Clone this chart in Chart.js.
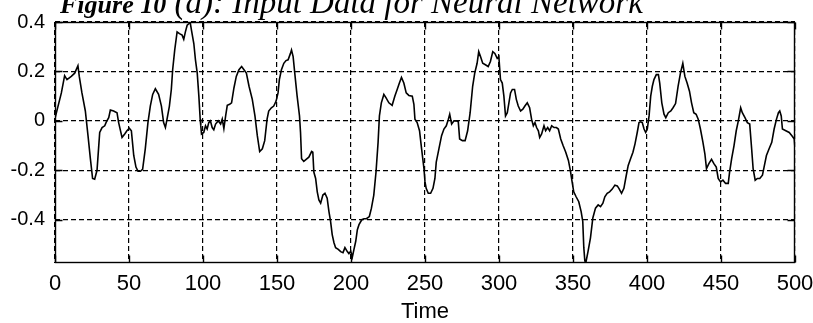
<!DOCTYPE html>
<html>
<head>
<meta charset="utf-8">
<script src="https://cdn.jsdelivr.net/npm/chart.js@4.4.0/dist/chart.umd.min.js"></script>
<style>
  html, body { margin: 0; padding: 0; background: #fff; }
  canvas { display: block; }
</style>
</head>
<body>
<canvas id="chart" width="813" height="323"></canvas>
<script>
// sample times and the input signal at those times
const time = [
  0, 4.3, 6.5, 8.1, 11, 13.3, 15.5, 16.4, 18.2, 20.5, 22.3, 23.9, 25.4, 26.8, 28.4,
  30.2, 31.8, 33.6, 34.7, 36.3, 37.4, 39.6, 41.9, 43, 45.3, 47.1, 48.6, 50.2, 51.6, 53.2,
  54.7, 56.1, 57.7, 59.2, 61, 62.8, 64.4, 66, 67.8, 70, 71.9, 73.4, 74.6, 75.7, 77.3,
  78.6, 79.5, 80.9, 82.5, 84.1, 85.9, 87, 88.1, 89.3, 90.4, 91.3, 92.2, 93.8, 94.9, 96.1,
  97.2, 98.1, 98.5, 99, 100.5, 101.7, 102.8, 103.9, 105, 106.2, 107.3, 108.5, 110.3, 111.9, 113,
  114.1, 115.3, 116.4, 118, 119.3, 120.9, 122.5, 124.3, 126.1, 127.7, 129.3, 131.1, 133.3, 135.1, 136.7,
  138.3, 140.1, 141.7, 143.3, 144.4, 146.2, 147.8, 149.4, 150.7, 151.6, 153, 154.6, 156.1, 157.5, 159.1,
  159.8, 160.9, 162, 163.6, 165.2, 165.9, 166.6, 168.1, 169.7, 171.5, 173.4, 174.2, 174.9, 176.1, 177.2,
  178.3, 179.5, 181, 182.4, 183.9, 185.1, 186.2, 187.3, 188.5, 189.6, 191.4, 193, 194.6, 195.9, 197.5,
  198.6, 199.8, 200.9, 202, 203.2, 204.3, 205.4, 207.3, 208.8, 210.4, 212.4, 213.8, 215.4, 216.9, 218.3,
  219.2, 220.5, 222.2, 223.7, 225.6, 227.8, 229.6, 231.2, 232.7, 234.1, 235.7, 237.3, 239.1, 241.4, 242.5,
  243.2, 244.7, 246.3, 247.7, 249.3, 250, 250.8, 252.2, 253.8, 255.4, 256.7, 257.6, 259.4, 261.2, 262.8,
  264.4, 265.8, 266.7, 268, 269.6, 271.2, 272.5, 273.4, 275.3, 277.1, 278.8, 280.5, 282.2, 283.6, 285.2,
  286.3, 287.5, 289, 290.8, 292.7, 294.2, 295.8, 297.2, 298.8, 299.9, 301, 302.2, 303.3, 304.4, 305.6,
  306.7, 307.8, 309, 310.5, 311.7, 313, 314.6, 316.1, 317.5, 319.1, 320.7, 322, 323.2, 324.3, 325.4,
  326.6, 327.5, 328.8, 330.4, 331.5, 332.9, 334.2, 335.6, 337.2, 338.8, 340.1, 341.7, 343.3, 345.1, 346.9,
  348.2, 349.4, 350.5, 352.1, 353.9, 355.5, 356.6, 357.3, 358, 358.8, 360.2, 361.8, 363.4, 365.2, 367,
  368.6, 370.2, 371.5, 373.1, 374.7, 376.5, 378.3, 379.9, 381, 382.8, 384.4, 386, 387.3, 388.9, 390.5,
  391.9, 393.4, 394.6, 395.7, 396.8, 398, 399.1, 400.2, 401.4, 402.5, 403.6, 404.7, 406.3, 407.7, 408.6,
  410, 411.5, 412.7, 414.4, 416.1, 417.6, 419.3, 421, 422.6, 424.2, 425.6, 427.1, 428.7, 430.1, 431.6,
  433.2, 434.6, 436.1, 437.8, 439.1, 440.2, 441.8, 443.6, 445.2, 446.8, 448.1, 449.7, 451.3, 453.1, 454.9,
  455.8, 457.2, 458.8, 460.3, 461.7, 463.3, 464.4, 466.2, 467.8, 469.4, 470.7, 471.7, 473.1, 474.6, 476.2,
  478, 479.1, 480.7, 482.5, 484.3, 485.9, 487.5, 488.8, 489.7, 490.7, 491.5, 493.8, 496.1, 497.9, 499.5,
  500
];
const input = [
  0.01, 0.113, 0.183, 0.167, 0.18, 0.193, 0.223, 0.18, 0.113, 0.04, -0.06, -0.153, -0.233, -0.236, -0.2,
  -0.047, -0.027, -0.02, -0.004, 0.013, 0.044, 0.04, 0.033, -0.007, -0.067, -0.053, -0.04, -0.03, -0.04, -0.14,
  -0.187, -0.204, -0.204, -0.196, -0.113, -0.007, 0.06, 0.107, 0.13, 0.107, 0.06, -0.007, -0.027, 0.007, 0.06,
  0.127, 0.207, 0.287, 0.36, 0.353, 0.347, 0.33, 0.36, 0.387, 0.393, 0.4, 0.367, 0.313, 0.247, 0.193,
  0.1, 0.007, -0.02, -0.053, -0.047, -0.02, -0.033, -0.007, 0, -0.027, -0.036, -0.013, 0, -0.013, 0.007,
  -0.031, 0.02, 0.063, 0.067, 0.073, 0.133, 0.18, 0.207, 0.22, 0.207, 0.193, 0.14, 0.087, 0.02, -0.06,
  -0.124, -0.113, -0.08, 0.007, 0.04, 0.053, 0.06, 0.08, 0.113, 0.167, 0.207, 0.233, 0.244, 0.247, 0.273,
  0.287, 0.26, 0.193, 0.1, 0.02, -0.047, -0.153, -0.164, -0.156, -0.147, -0.124, -0.127, -0.207, -0.233, -0.287,
  -0.32, -0.333, -0.3, -0.293, -0.313, -0.367, -0.407, -0.46, -0.493, -0.513, -0.52, -0.529, -0.533, -0.513, -0.529,
  -0.537, -0.527, -0.551, -0.52, -0.487, -0.44, -0.42, -0.4, -0.396, -0.396, -0.387, -0.353, -0.3, -0.207, -0.087,
  0.02, 0.073, 0.107, 0.093, 0.073, 0.063, 0.1, 0.127, 0.153, 0.176, 0.153, 0.113, 0.103, 0.1, 0.067,
  0.007, -0.007, -0.04, -0.113, -0.193, -0.247, -0.273, -0.293, -0.293, -0.273, -0.233, -0.167, -0.113, -0.06, -0.033,
  -0.02, 0.007, 0.027, -0.013, 0, 0, -0.004, -0.073, -0.08, -0.08, -0.04, 0.033, 0.14, 0.193, 0.233,
  0.28, 0.26, 0.233, 0.227, 0.22, 0.24, 0.28, 0.273, 0.253, 0.26, 0.167, 0.153, 0.1, 0.02, 0.033,
  0.073, 0.113, 0.127, 0.127, 0.087, 0.06, 0.04, 0.047, 0.06, 0.073, 0.053, 0.007, -0.02, -0.007, -0.027,
  -0.04, -0.067, -0.053, -0.02, -0.04, -0.027, -0.04, -0.02, -0.027, -0.027, -0.033, -0.073, -0.1, -0.127, -0.16,
  -0.2, -0.247, -0.287, -0.307, -0.327, -0.367, -0.407, -0.513, -0.567, -0.57, -0.527, -0.473, -0.393, -0.353, -0.34,
  -0.347, -0.333, -0.307, -0.293, -0.287, -0.276, -0.26, -0.263, -0.273, -0.293, -0.273, -0.22, -0.18, -0.153, -0.127,
  -0.093, -0.047, -0.007, -0.004, -0.007, -0.033, -0.047, -0.033, 0.02, 0.1, 0.14, 0.167, 0.187, 0.187, 0.153,
  0.073, 0.027, 0.013, 0.033, 0.04, 0.053, 0.07, 0.14, 0.193, 0.233, 0.18, 0.153, 0.12, 0.073, 0.033,
  0.027, 0.007, -0.033, -0.087, -0.133, -0.193, -0.173, -0.156, -0.173, -0.187, -0.233, -0.247, -0.24, -0.253, -0.253,
  -0.207, -0.153, -0.1, -0.04, 0, 0.053, 0.033, 0.013, -0.007, -0.013, -0.113, -0.193, -0.24, -0.233, -0.233,
  -0.22, -0.187, -0.14, -0.113, -0.087, -0.033, 0.007, 0.033, 0.04, 0.02, -0.033, -0.04, -0.047, -0.06, -0.073,
  -0.113
];
const xTicks = [0, 50, 100, 150, 200, 250, 300, 350, 400, 450, 500];
const yTicks = [-0.4, -0.2, 0, 0.2, 0.4];
const titleBold = 'Figure 10';
const titleRest = ' (a): Input Data for Neural Network';
const xLabel = 'Time';

const sans = "'Liberation Sans', Arial, sans-serif";

// white page, solid box and short inward ticks like a matlab axes, plus the cropped caption
const matlabBox = {
  id: 'matlabBox',
  beforeDraw(chart) {
    const ctx = chart.ctx;
    ctx.save();
    ctx.fillStyle = '#fff';
    ctx.fillRect(0, 0, chart.width, chart.height);
    ctx.restore();
  },
  afterDraw(chart) {
    const ctx = chart.ctx;
    const a = chart.chartArea;
    const xs = chart.scales.x, ys = chart.scales.y;
    const L = Math.round(a.left) + 0.5, R = Math.round(a.right) - 0.5;
    const T = Math.round(a.top) + 0.5, B = Math.round(a.bottom) - 0.5;
    const len = 7;
    ctx.save();
    ctx.strokeStyle = '#000';
    ctx.lineWidth = 1.4;
    ctx.strokeRect(L, T, R - L, B - T);
    ctx.beginPath();
    xTicks.forEach(v => {
      const p = Math.round(xs.getPixelForValue(v)) + 0.5;
      ctx.moveTo(p, B); ctx.lineTo(p, B - len);
      ctx.moveTo(p, T); ctx.lineTo(p, T + len);
    });
    yTicks.forEach(v => {
      const p = Math.round(ys.getPixelForValue(v)) + 0.5;
      ctx.moveTo(L, p); ctx.lineTo(L + len, p);
      ctx.moveTo(R, p); ctx.lineTo(R - len, p);
    });
    ctx.stroke();

    // caption, only its lower part fits on the page
    ctx.fillStyle = '#000';
    ctx.textBaseline = 'alphabetic';
    ctx.textAlign = 'left';
    ctx.font = "italic bold 26px 'Liberation Serif', 'Times New Roman', serif";
    ctx.fillText(titleBold, 60, 13);
    const w = ctx.measureText(titleBold).width;
    ctx.font = "italic 33px 'Liberation Serif', 'Times New Roman', serif";
    ctx.fillText(titleRest, 60 + w, 13);
    ctx.restore();
  }
};

const points = time.map((t, i) => ({ x: t, y: input[i] }));

new Chart(document.getElementById('chart'), {
  type: 'line',
  data: {
    datasets: [{
      label: 'input',
      data: points,
      borderColor: '#000',
      borderWidth: 1.6,
      pointRadius: 0,
      tension: 0,
      fill: false
    }]
  },
  options: {
    responsive: false,
    animation: false,
    devicePixelRatio: 1,
    layout: { padding: { top: 21, right: 0, left: 0, bottom: 0 } },
    plugins: {
      legend: { display: false },
      title: { display: false },
      tooltip: { enabled: false }
    },
    scales: {
      x: {
        type: 'linear',
        min: 0,
        max: 500,
        afterBuildTicks: s => { s.ticks = xTicks.map(v => ({ value: v })); },
        afterFit: s => { s.height = 60; s.paddingLeft = 0; s.paddingRight = 18; },
        ticks: {
          color: '#000',
          padding: 8,
          maxRotation: 0,
          autoSkip: false,
          font: { family: sans, size: 22 },
          callback: v => String(v)
        },
        grid: { color: '#000', lineWidth: 1.2, drawTicks: false },
        border: { display: false, dash: [5, 3] },
        title: {
          display: true,
          text: xLabel,
          color: '#000',
          font: { family: sans, size: 22, lineHeight: 1 },
          padding: { top: 0, bottom: 0 }
        }
      },
      y: {
        type: 'linear',
        min: -0.575,
        max: 0.4,
        afterBuildTicks: s => { s.ticks = yTicks.map(v => ({ value: v })); },
        afterFit: s => { s.width = 55; },
        ticks: {
          color: '#000',
          padding: 10,
          font: { family: sans, size: 20 },
          callback: v => String(v)
        },
        grid: { color: '#000', lineWidth: 1.2, drawTicks: false },
        border: { display: false, dash: [5, 3] }
      }
    }
  },
  plugins: [matlabBox]
});
</script>
</body>
</html>
